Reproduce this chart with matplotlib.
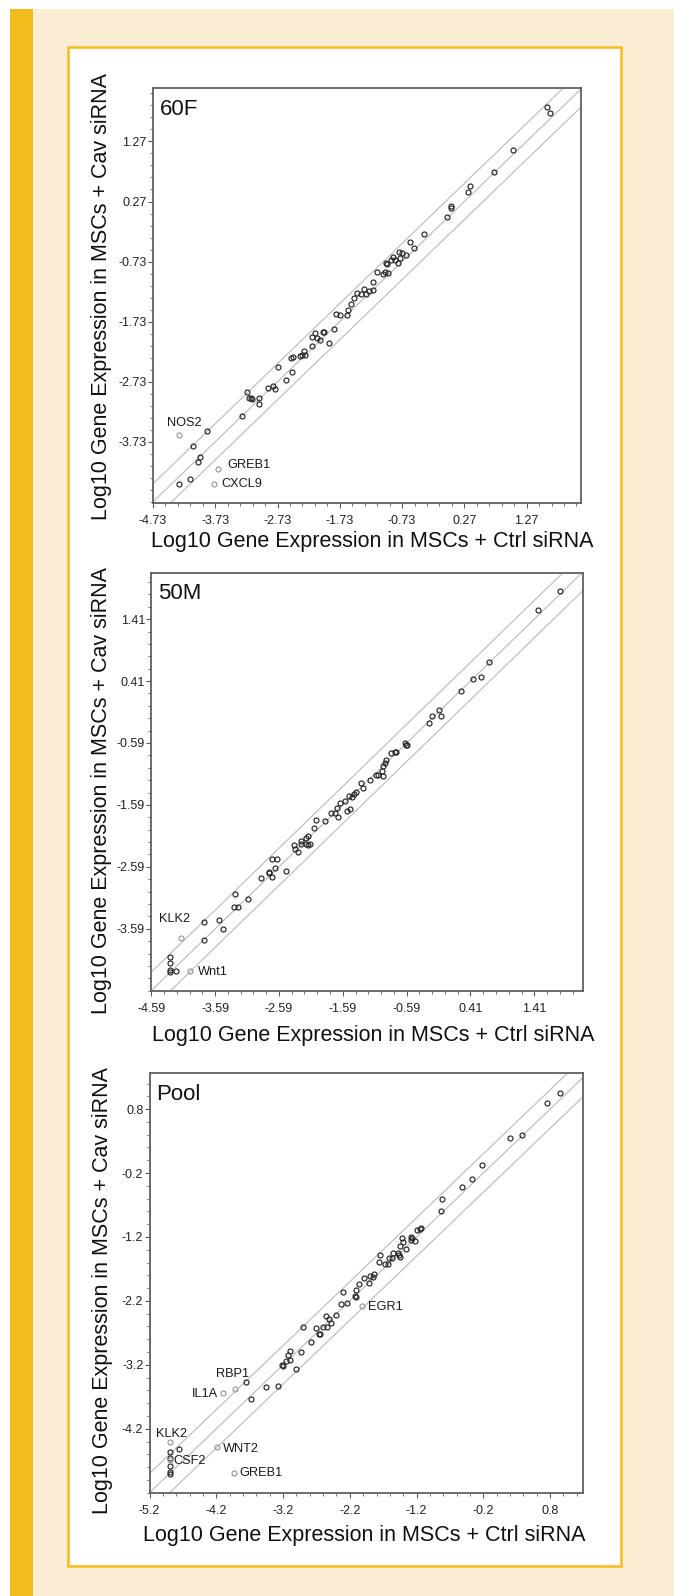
import numpy as np
import matplotlib
matplotlib.use("Agg")
import matplotlib.pyplot as plt
from matplotlib.patches import Rectangle
from matplotlib.ticker import FixedLocator, MultipleLocator, FormatStrFormatter

plt.rcParams["font.family"] = ["Liberation Sans", "DejaVu Sans"]

# ---- data: log10 expression, ctrl siRNA (x) vs cav siRNA (y) ----
f60_ctrl = [1.60, 1.645, 1.05, 0.745, 0.364, 0.331, 0.06, 0.06, -0.006, -0.37,
            -0.608, -0.542, -0.785, -0.73, -0.674, -0.874, -0.90, -0.846, -0.79, -0.763,
            -0.984, -0.97, -1.128, -1.04, -1.0, -0.957, -1.194, -1.349, -1.316, -1.387,
            -1.448, -1.26, -1.2, -1.503, -1.547, -1.60, -1.62, -1.785, -1.73, -1.83,
            -2.0, -1.98, -2.13, -2.17, -2.10, -2.04, -1.91, -2.17, -2.305, -2.29,
            -2.34, -2.365, -2.51, -2.48, -2.73, -2.49, -2.59, -2.88, -2.81, -2.77,
            -3.216, -3.19, -3.14, -3.16, -3.03, -3.02, -3.30, -3.857, -4.08, -3.97,
            -4.0, -4.31, -4.13]
f60_cav = [1.85, 1.74, 1.13, 0.755, 0.532, 0.421, 0.20, 0.17, 0.016, -0.278,
           -0.40, -0.50, -0.567, -0.595, -0.622, -0.65, -0.706, -0.706, -0.76, -0.678,
           -0.76, -0.77, -0.91, -0.944, -0.91, -0.928, -1.066, -1.194, -1.277, -1.272,
           -1.26, -1.222, -1.205, -1.33, -1.43, -1.538, -1.62, -1.605, -1.627, -1.86,
           -1.91, -1.91, -1.915, -1.99, -2.01, -2.04, -2.08, -2.137, -2.226, -2.29,
           -2.29, -2.30, -2.33, -2.315, -2.487, -2.565, -2.71, -2.84, -2.81, -2.86,
           -2.91, -3.0, -3.02, -3.01, -3.01, -3.10, -3.30, -3.55, -3.80, -3.98,
           -4.07, -4.43, -4.35]
f60_genes = ["NOS2", "GREB1", "CXCL9"]
f60_gene_ctrl = [-4.31, -3.69, -3.757]
f60_gene_cav = [-3.61, -4.19, -4.43]
f60_ticks_x = [-4.73, -3.73, -2.73, -1.73, -0.73, 0.27, 1.27]
f60_ticks_y = [-3.73, -2.73, -1.73, -0.73, 0.27, 1.27]

m50_ctrl = [1.81, 1.465, 0.70, 0.456, 0.57, 0.262, -0.246, -0.197, -0.089, -0.057,
            -0.623, -0.59, -0.60, -0.83, -0.775, -0.76, -0.91, -0.93, -0.958, -0.974,
            -0.953, -1.033, -1.066, -1.158, -1.298, -1.27, -1.39, -1.417, -1.45, -1.49,
            -1.55, -1.627, -1.477, -1.525, -1.686, -1.665, -1.719, -1.773, -1.87, -2.016,
            -2.037, -2.13, -2.16, -2.11, -2.13, -2.17, -2.237, -2.237, -2.36, -2.34,
            -2.296, -2.706, -2.615, -2.647, -2.744, -2.744, -2.695, -2.475, -2.879, -3.068,
            -3.278, -3.30, -3.23, -3.527, -3.473, -3.77, -3.76, -4.29, -4.29, -4.29,
            -4.29, -4.2]
m50_cav = [1.857, 1.55, 0.71, 0.45, 0.483, 0.252, -0.26, -0.152, -0.055, -0.152,
           -0.594, -0.627, -0.62, -0.756, -0.735, -0.73, -0.864, -0.91, -0.955, -1.04,
           -1.122, -1.11, -1.11, -1.187, -1.24, -1.32, -1.38, -1.408, -1.467, -1.446,
           -1.532, -1.553, -1.66, -1.683, -1.645, -1.785, -1.715, -1.726, -1.855, -1.834,
           -1.963, -2.09, -2.13, -2.22, -2.243, -2.22, -2.168, -2.22, -2.237, -2.308,
           -2.35, -2.469, -2.469, -2.604, -2.674, -2.695, -2.755, -2.66, -2.776, -3.116,
           -3.03, -3.245, -3.24, -3.455, -3.60, -3.488, -3.773, -4.048, -4.15, -4.258,
           -4.28, -4.27]
m50_genes = ["KLK2", "Wnt1"]
m50_gene_ctrl = [-4.126, -3.986]
m50_gene_cav = [-3.746, -4.27]
m50_ticks_x = [-4.59, -3.59, -2.59, -1.59, -0.59, 0.41, 1.41]
m50_ticks_y = [-3.59, -2.59, -1.59, -0.59, 0.41, 1.41]

pool_ctrl = [0.95, 0.755, 0.192, 0.373, -0.221, -0.365, -0.515, -0.82, -0.84, -1.129,
             -1.155, -1.196, -1.29, -1.273, -1.222, -1.28, -1.413, -1.397, -1.449, -1.361,
             -1.485, -1.443, -1.469, -1.547, -1.567, -1.614, -1.635, -1.68, -1.758, -1.743,
             -1.84, -1.846, -1.903, -1.908, -1.985, -2.063, -2.114, -2.114, -2.125, -2.31,
             -2.326, -2.238, -2.408, -2.563, -2.507, -2.476, -2.543, -2.6, -2.713, -2.9,
             -2.646, -2.667, -2.785, -2.93, -3.095, -3.12, -3.095, -3.157, -3.213, -3.205,
             -3.012, -3.28, -3.461, -3.688, -3.76, -4.9, -4.767, -4.9, -4.9, -4.9,
             -4.9]
pool_cav = [1.055, 0.90, 0.352, 0.393, -0.076, -0.30, -0.425, -0.608, -0.79, -1.067,
            -1.077, -1.093, -1.197, -1.223, -1.26, -1.25, -1.223, -1.275, -1.343, -1.395,
            -1.447, -1.51, -1.484, -1.458, -1.525, -1.525, -1.63, -1.63, -1.598, -1.489,
            -1.78, -1.833, -1.81, -1.927, -1.849, -1.937, -2.026, -2.135, -2.125, -2.068,
            -2.25, -2.24, -2.427, -2.433, -2.48, -2.552, -2.605, -2.61, -2.62, -2.61,
            -2.725, -2.725, -2.85, -3.006, -2.98, -3.048, -3.126, -3.142, -3.2, -3.215,
            -3.261, -3.527, -3.548, -3.741, -3.475, -4.565, -4.523, -4.784, -4.883, -4.90,
            -4.654]
pool_genes = ["RBP1", "IL1A", "KLK2", "CSF2", "WNT2", "GREB1", "EGR1"]
pool_gene_ctrl = [-3.92, -4.106, -4.9, -4.9, -4.183, -3.94, -2.02]
pool_gene_cav = [-3.585, -3.642, -4.414, -4.69, -4.492, -4.888, -2.287]
pool_ticks_x = [-5.2, -4.2, -3.2, -2.2, -1.2, -0.2, 0.8]
pool_ticks_y = [-4.2, -3.2, -2.2, -1.2, -0.2, 0.8]

fold_line = np.log10(2)

W, H = 674, 1596


def fx(px):
    return px / W


def fy(py):
    return 1 - py / H


def draw_panel(fig, box, lims, ctrl, cav, genes, gctrl, gcav, label_pos,
               ticks_x, ticks_y, fmt, name, ylab_xy, xlab_xy):
    left, top, right, bottom = box
    ax = fig.add_axes([fx(left), fy(bottom), fx(right) - fx(left), (bottom - top) / H])
    (x0, x1), (y0, y1) = lims

    line = np.array([-7.0, 4.0])
    for off in [-fold_line, 0, fold_line]:
        ax.plot(line, line + off, color="#bdbdbd", lw=0.85, zorder=1)

    ax.plot(ctrl, cav, "o", mfc="none", mec="#262626", ms=3.6, mew=0.85, zorder=3)
    ax.plot(gctrl, gcav, "o", mfc="none", mec="#999999", ms=3.6, mew=0.85, zorder=3)

    for g, (tx, ty, ha) in zip(genes, label_pos):
        ax.text(tx, ty, g, fontsize=9.2, ha=ha, va="center", color="#1a1a1a")

    ax.text(0.016, 0.975, name, transform=ax.transAxes, fontsize=16,
            ha="left", va="top", color="#111111")

    ax.set_xlim(x0, x1)
    ax.set_ylim(y0, y1)
    ax.xaxis.set_major_locator(FixedLocator(ticks_x))
    ax.yaxis.set_major_locator(FixedLocator(ticks_y))
    ax.xaxis.set_minor_locator(MultipleLocator(0.2, offset=ticks_x[0] % 0.2))
    ax.yaxis.set_minor_locator(MultipleLocator(0.2, offset=ticks_y[0] % 0.2))
    ax.xaxis.set_major_formatter(FormatStrFormatter(fmt))
    ax.yaxis.set_major_formatter(FormatStrFormatter(fmt))
    ax.tick_params(which="major", length=3.5, width=0.8, color="#5a5a5a",
                   labelsize=9, labelcolor="#222222")
    ax.tick_params(which="minor", length=2, width=0.6, color="#5a5a5a")
    ax.tick_params(axis="x", pad=5)
    ax.tick_params(axis="y", pad=1)
    for s in ax.spines.values():
        s.set_color("#606060")
        s.set_linewidth(1.3)

    fig.text(fx(ylab_xy[0]), fy(ylab_xy[1]), "Log10 Gene Expression in MSCs + Cav siRNA",
             rotation=90, ha="center", va="center", fontsize=15.5, color="#111111")
    fig.text(fx(xlab_xy[0]), fy(xlab_xy[1]), "Log10 Gene Expression in MSCs + Ctrl siRNA",
             ha="center", va="center", fontsize=15.5, color="#111111")
    return ax


fig = plt.figure(figsize=(W / 100, H / 100), dpi=100)
fig.patch.set_facecolor("white")

fig.add_artist(Rectangle((fx(33), 0), 1 - fx(33), fy(9), transform=fig.transFigure,
                         facecolor="#faedd3", edgecolor="none", zorder=-3))
fig.add_artist(Rectangle((fx(9.5), 0), fx(33) - fx(9.5), fy(9), transform=fig.transFigure,
                         facecolor="#f2bd1c", edgecolor="none", zorder=-3))
fig.add_artist(Rectangle((fx(67.5), fy(1566)), fx(621) - fx(67.5), (1566 - 46.5) / H,
                         transform=fig.transFigure, facecolor="white",
                         edgecolor="#f4bf26", lw=1.9, zorder=-2))

draw_panel(fig, (153, 88.3, 581.4, 502.7), ((-4.73, 2.15), (-4.745, 2.155)),
           f60_ctrl, f60_cav, f60_genes, f60_gene_ctrl, f60_gene_cav,
           [(-4.50, -3.42, "left"), (-3.537, -4.12, "left"), (-3.636, -4.44, "left")],
           f60_ticks_x, f60_ticks_y, "%.2f", "60F", (101, 297), (372.5, 541))

draw_panel(fig, (151.3, 572.7, 582.8, 990.7), ((-4.59, 2.17), (-4.59, 2.16)),
           m50_ctrl, m50_cav, m50_genes, m50_gene_ctrl, m50_gene_cav,
           [(-4.466, -3.428, "left"), (-3.86, -4.28, "left")],
           m50_ticks_x, m50_ticks_y, "%.2f", "50M", (101, 791), (373, 1035))

draw_panel(fig, (149.6, 1073.3, 582.8, 1492.7), ((-5.2, 1.29), (-5.2, 1.36)),
           pool_ctrl, pool_cav, pool_genes, pool_gene_ctrl, pool_gene_cav,
           [(-4.199, -3.35, "left"), (-4.178, -3.658, "right"), (-5.097, -4.283, "left"),
            (-4.839, -4.70, "left"), (-4.096, -4.518, "left"), (-3.858, -4.899, "left"),
            (-1.929, -2.302, "left")],
           pool_ticks_x, pool_ticks_y, "%.1f", "Pool", (103, 1291), (364, 1535))

fig.savefig("out.png", dpi=100)
